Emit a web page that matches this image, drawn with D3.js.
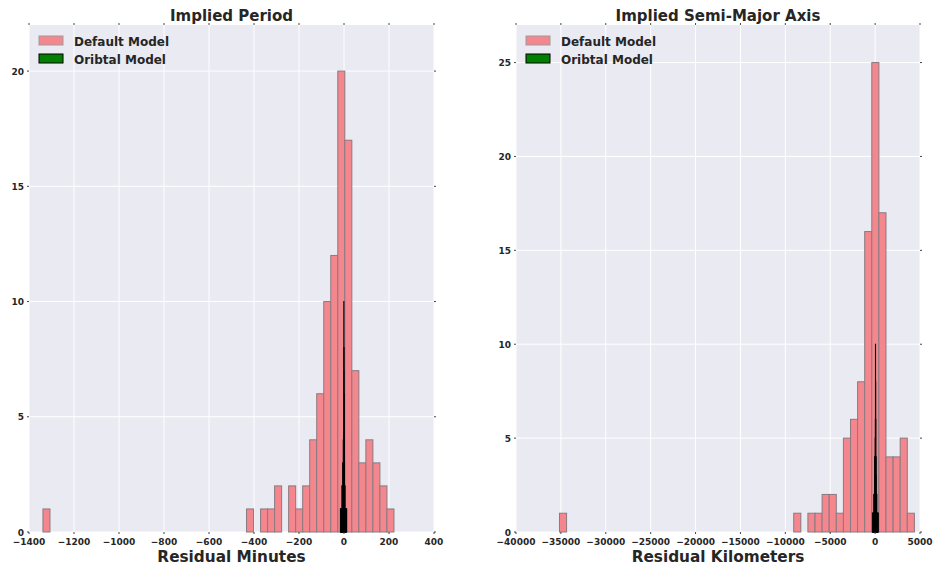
<!DOCTYPE html>
<html>
<head>
<meta charset="utf-8">
<script src="https://cdn.jsdelivr.net/npm/d3@7"></script>
<style>
  body { margin: 0; background: #ffffff; }
  svg { display: block; }
  text { font-family: "DejaVu Sans", sans-serif; fill: #262626; }
</style>
</head>
<body>
<svg id="chart" width="933" height="567"></svg>
<script>
// ---------------- DATA ----------------
// Left panel: Implied Period (residual minutes), 50 bins
const periodBinStart = -1338;
const periodBinWidth = 31.2;
const periodDefaultCounts = [
  1,0,0,0,0,0,0,0,0,0,
  0,0,0,0,0,0,0,0,0,0,
  0,0,0,0,0,0,0,0,0,1,
  0,1,1,2,0,2,1,2,4,6,
  10,12,20,17,7,3,4,3,2,1
];
const orbitalPeriodStart = -16;
const orbitalPeriodWidth = 0.56;
const orbitalPeriodCounts = [
  1,0,0,1,0,1,1,0,1,1,
  1,1,1,2,2,1,2,2,2,2,
  3,3,3,4,4,5,7,10,8,6,
  4,3,3,2,2,2,1,1,1,1,
  1,1,0,1,0,0,0,1,0,1
];
const periodXTicks = [-1400,-1200,-1000,-800,-600,-400,-200,0,200,400];
const periodYTicks = [0,5,10,15,20];

// Right panel: Implied Semi-Major Axis (residual km), 50 bins
const axisBinStart = -35156;
const axisBinWidth = 790.6;
const axisDefaultCounts = [
  1,0,0,0,0,0,0,0,0,0,
  0,0,0,0,0,0,0,0,0,0,
  0,0,0,0,0,0,0,0,0,0,
  0,0,0,1,0,1,1,2,2,1,
  5,6,8,16,25,17,4,4,5,1
];
const orbitalAxisStart = -300;
const orbitalAxisWidth = 13;
const orbitalAxisCounts = [
  1,0,1,0,0,1,0,1,1,0,
  1,1,1,2,1,2,2,2,3,2,
  3,4,4,4,5,6,10,8,6,4,
  4,3,2,2,2,1,1,2,1,1,
  0,1,1,0,1,0,0,1,0,1
];
const axisXTicks = [-40000,-35000,-30000,-25000,-20000,-15000,-10000,-5000,0,5000];
const axisYTicks = [0,5,10,15,20,25];

const legendLabels = ["Default Model", "Oribtal Model"];

// ---------------- DRAW ----------------
const svg = d3.select("#chart");
const fmt = v => (v < 0 ? "\u2212" + Math.abs(v) : String(v));

function panel(cfg) {
  const g = svg.append("g");
  const x = d3.scaleLinear().domain(cfg.xDomain).range([cfg.left, cfg.right]);
  const y = d3.scaleLinear().domain(cfg.yDomain).range([cfg.bottom, cfg.top]);

  g.append("rect")
    .attr("x", cfg.left).attr("y", cfg.top)
    .attr("width", cfg.right - cfg.left).attr("height", cfg.bottom - cfg.top)
    .attr("fill", "#EAEAF2");

  // grid
  g.selectAll(".gx").data(cfg.xTicks).enter().append("line")
    .attr("x1", d => x(d)).attr("x2", d => x(d))
    .attr("y1", cfg.top).attr("y2", cfg.bottom)
    .attr("stroke", "#ffffff").attr("stroke-width", 1);
  g.selectAll(".gy").data(cfg.yTicks).enter().append("line")
    .attr("x1", cfg.left).attr("x2", cfg.right)
    .attr("y1", d => y(d)).attr("y2", d => y(d))
    .attr("stroke", "#ffffff").attr("stroke-width", 1);

  // default model bars
  const def = cfg.defCounts.map((c, i) => ({x0: cfg.defStart + i * cfg.defWidth, c}))
    .filter(d => d.c > 0);
  g.selectAll(".bd").data(def).enter().append("rect")
    .attr("x", d => x(d.x0))
    .attr("width", d => x(d.x0 + cfg.defWidth) - x(d.x0))
    .attr("y", d => y(d.c))
    .attr("height", d => y(0) - y(d.c))
    .attr("fill", "#F4878D")
    .attr("stroke", "#8a7a80")
    .attr("stroke-width", 1);

  // orbital model bars
  const orb = cfg.orbCounts.map((c, i) => ({x0: cfg.orbStart + i * cfg.orbWidth, c}))
    .filter(d => d.c > 0);
  g.selectAll(".bo").data(orb).enter().append("rect")
    .attr("x", d => x(d.x0))
    .attr("width", d => x(d.x0 + cfg.orbWidth) - x(d.x0))
    .attr("y", d => y(d.c))
    .attr("height", d => y(0) - y(d.c))
    .attr("fill", "#008000")
    .attr("stroke", "#000000")
    .attr("stroke-width", 1);

  // ticks (small marks on all sides)
  const tk = g.append("g").attr("stroke", "#444").attr("stroke-width", 1);
  cfg.xTicks.forEach(t => {
    tk.append("line").attr("x1", x(t)).attr("x2", x(t)).attr("y1", cfg.bottom).attr("y2", cfg.bottom + 2);
    tk.append("line").attr("x1", x(t)).attr("x2", x(t)).attr("y1", cfg.top - 2).attr("y2", cfg.top);
  });
  cfg.yTicks.forEach(t => {
    tk.append("line").attr("x1", cfg.left - 2).attr("x2", cfg.left).attr("y1", y(t)).attr("y2", y(t));
    tk.append("line").attr("x1", cfg.right).attr("x2", cfg.right + 2).attr("y1", y(t)).attr("y2", y(t));
  });

  // tick labels
  g.selectAll(".xl").data(cfg.xTicks).enter().append("text")
    .attr("x", d => x(d)).attr("y", cfg.bottom + 13)
    .attr("text-anchor", "middle")
    .attr("font-size", 9).attr("font-weight", "bold")
    .text(fmt);
  g.selectAll(".yl").data(cfg.yTicks).enter().append("text")
    .attr("x", cfg.left - 5).attr("y", d => y(d) + 3.5)
    .attr("text-anchor", "end")
    .attr("font-size", 9).attr("font-weight", "bold")
    .text(fmt);

  // title & axis label
  g.append("text").attr("x", (cfg.left + cfg.right) / 2).attr("y", 21)
    .attr("text-anchor", "middle").attr("font-size", 15).attr("font-weight", "bold")
    .text(cfg.title);
  g.append("text").attr("x", (cfg.left + cfg.right) / 2).attr("y", 562)
    .attr("text-anchor", "middle").attr("font-size", 15.3).attr("font-weight", "bold")
    .text(cfg.xLabel);

  // legend
  const lg = g.append("g");
  const lx = cfg.left + 10, ly = cfg.top + 11;
  lg.append("rect").attr("x", lx).attr("y", ly).attr("width", 24).attr("height", 9)
    .attr("fill", "#F4878D").attr("stroke", "#a09a9e").attr("stroke-width", 1);
  lg.append("rect").attr("x", lx).attr("y", ly + 18).attr("width", 24).attr("height", 9)
    .attr("fill", "#008000").attr("stroke", "#000").attr("stroke-width", 1);
  lg.append("text").attr("x", lx + 35).attr("y", ly + 9.5).attr("font-size", 12).attr("font-weight", "bold")
    .text(legendLabels[0]);
  lg.append("text").attr("x", lx + 35).attr("y", ly + 27.5).attr("font-size", 12).attr("font-weight", "bold")
    .text(legendLabels[1]);
}

panel({
  left: 29, right: 434, top: 25, bottom: 532,
  xDomain: [-1400, 400], yDomain: [0, 22],
  xTicks: periodXTicks, yTicks: periodYTicks,
  defStart: periodBinStart, defWidth: periodBinWidth, defCounts: periodDefaultCounts,
  orbStart: orbitalPeriodStart, orbWidth: orbitalPeriodWidth, orbCounts: orbitalPeriodCounts,
  title: "Implied Period", xLabel: "Residual Minutes"
});
panel({
  left: 516, right: 920, top: 25, bottom: 532,
  xDomain: [-40000, 5000], yDomain: [0, 27],
  xTicks: axisXTicks, yTicks: axisYTicks,
  defStart: axisBinStart, defWidth: axisBinWidth, defCounts: axisDefaultCounts,
  orbStart: orbitalAxisStart, orbWidth: orbitalAxisWidth, orbCounts: orbitalAxisCounts,
  title: "Implied Semi-Major Axis", xLabel: "Residual Kilometers"
});
</script>
</body>
</html>
